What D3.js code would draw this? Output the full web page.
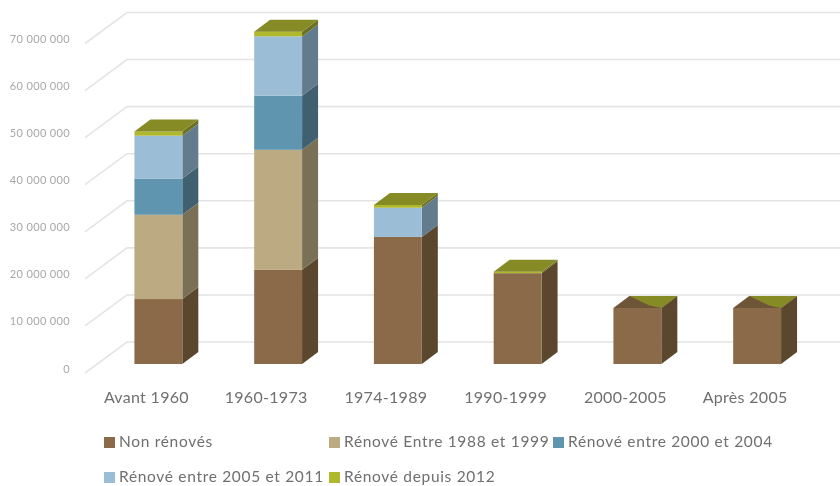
<!DOCTYPE html>
<html><head><meta charset="utf-8">
<script src="https://cdn.jsdelivr.net/npm/d3@7/dist/d3.min.js"></script>
<style>html,body{margin:0;padding:0;background:#fff}svg{display:block}</style>
</head><body><svg id="c" width="840" height="486"></svg>
<script>
const categories = ["Avant 1960","1960-1973","1974-1989","1990-1999","2000-2005","Après 2005"];
const seriesNames = ["Non rénovés","Rénové Entre 1988 et 1999","Rénové entre 2000 et 2004","Rénové entre 2005 et 2011","Rénové depuis 2012"];
const nonRenoves = [13800000,20000000,27000000,19300000,11900000,11900000];
const renove8899 = [17900000,25500000,0,0,0,0];
const renove0004 = [7700000,11500000,0,0,0,0];
const renove0511 = [9100000,12600000,6200000,0,0,0];
const renove2012 = [900000,1000000,600000,300000,0,0];
const seriesValues = [nonRenoves,renove8899,renove0004,renove0511,renove2012];
const tickValues = [0,10000000,20000000,30000000,40000000,50000000,60000000,70000000];
const tickLabels = ["0","10 000 000","20 000 000","30 000 000","40 000 000","50 000 000","60 000 000","70 000 000"];
const frontColors = ["#8b6b49","#bcab82","#5f95ae","#9bbed6","#b0b82f"];
const sideColors = ["#5a462d","#7a6f55","#3f6070","#627b8d","#6d7020"];
const topColor = "#868b27", emptyTopColor = "#6e5439";
const textColor = "#6f6f6f", tickColor = "#a8a8a8", gridColor = "#e4e4e4";

const svg = d3.select("#c");
const font = "Lato, 'Open Sans', sans-serif";
svg.append("defs").append("filter").attr("id","soft").attr("x","-5%").attr("y","-5%").attr("width","110%").attr("height","110%")
  .append("feGaussianBlur").attr("stdDeviation",0.6);
const root = svg.append("g").attr("filter","url(#soft)");

const y = d3.scaleLinear().domain([0,70000000]).range([364,34.5]);
const x = d3.scaleBand().domain(categories).range([98.5,817]).paddingInner(0.6).paddingOuter(0.3);
const depthX = 16, depthY = -12;
const poly = pts => pts.map(p=>p.join(",")).join(" ");

// walls: each gridline has a floor diagonal then runs along the back
const line = d3.line();
root.append("g").selectAll("path").data(tickValues).join("path")
  .attr("d",v=>line([[85,y(v)+9],[127,y(v)-22],[840,y(v)-22]]))
  .attr("fill","none").attr("stroke",gridColor).attr("stroke-width",1.6);

root.append("g").selectAll("text").data(tickValues).join("text")
  .attr("x",70).attr("y",v=>y(v)+8.5).attr("text-anchor","end")
  .attr("font-family",font).attr("font-size",11).attr("letter-spacing",0.35).attr("fill",tickColor)
  .text((v,i)=>tickLabels[i]);

const bars = root.append("g");
categories.forEach((c,ci)=>{
  const x0 = x(c), x1 = x0+x.bandwidth();
  const g = bars.append("g");
  let cum = 0, lastIdx = 0;
  seriesValues.forEach((vals,si)=>{
    const v = vals[ci];
    if(v<=0) return;
    const yb = y(cum), yt = y(cum+v);
    g.append("polygon").attr("fill",sideColors[si])
      .attr("points",poly([[x1,yb],[x1+depthX,yb+depthY],[x1+depthX,yt+depthY],[x1,yt]]));
    g.append("rect").attr("x",x0).attr("y",yt).attr("width",x1-x0).attr("height",yb-yt).attr("fill",frontColors[si]);
    cum += v; lastIdx = si;
  });
  const yt = y(cum);
  const quad = [[x0,yt],[x0+depthX,yt+depthY],[x1+depthX,yt+depthY],[x1,yt]];
  if(lastIdx===4){
    g.append("polygon").attr("fill",topColor).attr("points",poly(quad));
  } else {
    // empty top series: the top face of the lower box shows through the zero-height one
    g.append("polygon").attr("fill",emptyTopColor).attr("points",poly(quad));
    g.append("polygon").attr("fill",topColor)
      .attr("points",poly([[x0+depthX,yt+depthY],[x1-12,yt-2.5],[x1,yt],[x1+depthX,yt+depthY]]));
  }
});

root.append("g").selectAll("text").data(categories).join("text")
  .attr("x",c=>x(c)+x.bandwidth()/2-12).attr("y",402.5).attr("text-anchor","middle")
  .attr("font-family",font).attr("font-size",16).attr("letter-spacing",0.3).attr("fill",textColor).text(c=>c);

const legendX = [104,329,553,104,329], legendY = [437,437,437,472,472];
const leg = root.append("g").selectAll("g").data(seriesNames).join("g")
  .attr("transform",(d,i)=>`translate(${legendX[i]},${legendY[i]})`);
leg.append("rect").attr("width",11).attr("height",11).attr("fill",(d,i)=>frontColors[i]);
leg.append("text").attr("x",15).attr("y",10).attr("font-family",font).attr("font-size",15.5)
  .attr("letter-spacing",0.68).attr("fill",textColor).text(d=>d);
</script></body></html>
